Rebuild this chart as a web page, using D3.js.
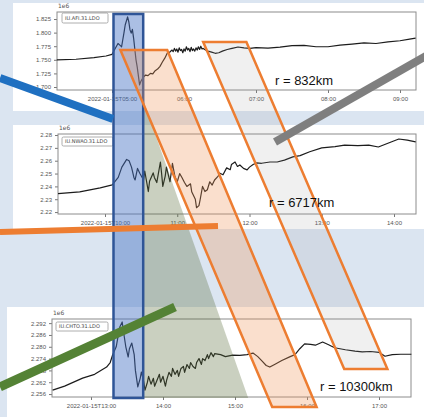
<!DOCTYPE html>
<html lang="en">
<head>
<meta charset="UTF-8">
<title>LDO pressure records</title>
<style>
  body { margin: 0; background: #dbe5f1; }
  svg { display: block; font-family: "DejaVu Sans", sans-serif; }
</style>
</head>
<body>
<script src="https://cdn.jsdelivr.net/npm/d3@7"></script>
<script>

// station names + distance labels
const stations = ["IU.AFI.31.LDO", "IU.NWAO.31.LDO", "IU.CHTO.31.LDO"];
const distances = ["r = 832km", "r = 6717km", "r = 10300km"];

// AFI (values in 1e6)
const afiTime = ["04:14","04:30","04:45","04:55","05:00","05:02","05:05","05:07","05:08","05:10","05:11","05:13","05:14","05:15","05:16","05:17","05:18","05:20","05:21","05:23","05:24","05:26","05:28","05:30","05:32","05:34","05:36","05:38","05:40","05:42","05:44","05:46","05:48","05:50",
  "05:51","05:52","05:53","05:54","05:55","05:56","05:57","05:58","05:59","06:00","06:01","06:02","06:03","06:04","06:05","06:06","06:07","06:08","06:09","06:10","06:11","06:12","06:13","06:14","06:15","06:16","06:18","06:20","06:23","06:26","06:29","06:32","06:36","06:40","06:45","06:50","06:55","07:00","07:10","07:20","07:30","07:40","07:50","08:00","08:10","08:20","08:30","08:40","08:50","09:00","09:08","09:13"];
const afiVal = [1.7500,1.7510,1.7540,1.7570,1.7600,1.7680,1.7800,1.7760,1.7740,1.8000,1.8140,1.8290,1.8200,1.8050,1.7990,1.8060,1.7900,1.7500,1.7370,1.7040,1.7100,1.7180,1.7220,1.7210,1.7250,1.7240,1.7300,1.7330,1.7380,1.7460,1.7530,1.7620,1.7640,1.7680,
  1.7650,1.7710,1.7660,1.7700,1.7640,1.7720,1.7670,1.7690,1.7630,1.7700,1.7660,1.7740,1.7680,1.7710,1.7650,1.7730,1.7670,1.7700,1.7660,1.7720,1.7680,1.7740,1.7690,1.7750,1.7700,1.7710,1.7680,1.7660,1.7640,1.7620,1.7630,1.7660,1.7690,1.7710,1.7735,1.7720,1.7710,1.7725,1.7715,1.7735,1.7760,1.7765,1.7740,1.7740,1.7770,1.7790,1.7810,1.7800,1.7830,1.7850,1.7880,1.7900];

// NWAO
const nwaoTime = ["09:21","09:39","09:56","10:06","10:11","10:14","10:18","10:20","10:22","10:24","10:25","10:27","10:29","10:32","10:33","10:36","10:37","10:40","10:41","10:43","10:46","10:47","10:48","10:50","10:51","10:54","10:56","10:58","11:00","11:02","11:04","11:06","11:08","11:11","11:12","11:15","11:16","11:18","11:19","11:21","11:23","11:25","11:27","11:29","11:31","11:34","11:35","11:38","11:41","11:44","11:45","11:48","11:50","11:52","11:55","11:58","12:00","12:03","12:06","12:10","12:17","12:23","12:29","12:36","12:42","12:50","13:00","13:11","13:19","13:30","13:39","13:47","13:56","14:04","14:11","14:18"];
const nwaoVal = [2.2343,2.2357,2.2389,2.2412,2.2470,2.2550,2.2610,2.2600,2.2550,2.2470,2.2450,2.2540,2.2500,2.2450,2.2520,2.2360,2.2440,2.2505,2.2470,2.2430,2.2590,2.2500,2.2400,2.2480,2.2550,2.2436,2.2580,2.2480,2.2436,2.2500,2.2467,2.2430,2.2400,2.2420,2.2358,2.2300,2.2234,2.2250,2.2296,2.2400,2.2360,2.2374,2.2436,2.2410,2.2450,2.2480,2.2505,2.2490,2.2544,2.2530,2.2570,2.2590,2.2555,2.2567,2.2540,2.2529,2.2550,2.2570,2.2583,2.2580,2.2590,2.2590,2.2605,2.2630,2.2640,2.2670,2.2700,2.2710,2.2722,2.2718,2.2722,2.2707,2.2740,2.2769,2.2760,2.2746];

// CHTO
const chtoTime = ["12:28","12:38","12:53","13:03","13:13","13:16","13:18","13:21","13:22","13:24","13:26","13:27","13:29","13:31","13:32","13:34","13:36","13:37","13:39","13:41","13:42","13:44","13:45","13:47","13:48","13:50","13:52","13:53","13:55","13:57","13:58","14:00","14:02","14:03","14:05","14:07","14:08","14:10","14:12","14:13","14:15","14:17","14:18","14:20","14:22","14:23","14:25","14:27","14:28","14:30","14:32","14:33","14:35","14:37","14:38","14:40","14:42","14:43","14:48","14:52","14:58","15:04","15:10","15:15","15:19","15:23","15:26","15:29","15:33","15:39","15:46","15:50","15:54","15:58","16:03","16:07","16:13","16:18","16:23","16:32","16:40","16:46","16:53","17:00","17:05","17:11","17:18","17:27"];
const chtoVal = [2.2580,2.2600,2.2641,2.2660,2.2697,2.2720,2.2758,2.2800,2.2834,2.2900,2.2926,2.2880,2.2800,2.2748,2.2790,2.2819,2.2760,2.2680,2.2596,2.2640,2.2672,2.2620,2.2580,2.2620,2.2650,2.2610,2.2640,2.2600,2.2630,2.2660,2.2620,2.2650,2.2600,2.2630,2.2670,2.2650,2.2690,2.2660,2.2680,2.2650,2.2690,2.2700,2.2670,2.2710,2.2690,2.2720,2.2700,2.2690,2.2720,2.2740,2.2710,2.2740,2.2730,2.2760,2.2740,2.2770,2.2750,2.2765,2.2760,2.2750,2.2758,2.2756,2.2760,2.2768,2.2750,2.2725,2.2705,2.2697,2.2710,2.2730,2.2750,2.2760,2.2790,2.2815,2.2812,2.2808,2.2824,2.2810,2.2795,2.2785,2.2778,2.2774,2.2776,2.2772,2.2752,2.2760,2.2762,2.2762];

// ticks
const afiYTicks = [1.700, 1.725, 1.750, 1.775, 1.800, 1.825];
const nwaoYTicks = [2.22, 2.23, 2.24, 2.25, 2.26, 2.27, 2.28];
const chtoYTicks = [2.256, 2.262, 2.268, 2.274, 2.280, 2.286, 2.292];
const afiXTicks = ["05:00", "06:00", "07:00", "08:00", "09:00"];
const nwaoXTicks = ["10:00", "11:00", "12:00", "13:00", "14:00"];
const chtoXTicks = ["13:00", "14:00", "15:00", "16:00", "17:00"];

const parseT = s => d3.utcParse("%Y-%m-%d %H:%M:%S")("2022-01-15 " + (s.length === 5 ? s + ":00" : s));
const hm = d3.utcFormat("%H:%M");

const W = 424, H = 417;

// panel layout (matplotlib boxes inside white slides)
const panels = [
  { name: stations[0], time: afiTime, val: afiVal, yTicks: afiYTicks, xTicks: afiXTicks, dec: 3,
    xDom: ["04:14:10", "09:13:20"], yDom: [1.6945, 1.8379],
    bg: [13, 3, 411, 108], box: [57, 12, 416, 90], leg: [62, 13, 46, 10] },
  { name: stations[1], time: nwaoTime, val: nwaoVal, yTicks: nwaoYTicks, xTicks: nwaoXTicks, dec: 2,
    xDom: ["09:20:58", "14:18:16"], yDom: [2.2185, 2.2808],
    bg: [13, 125, 411, 104], box: [58, 134, 416, 214], leg: [62, 137, 51, 9] },
  { name: stations[2], time: chtoTime, val: chtoVal, yTicks: chtoYTicks, xTicks: chtoXTicks, dec: 3,
    xDom: ["12:27:30", "17:26:40"], yDom: [2.2545, 2.2941],
    bg: [7, 307, 417, 110], box: [52, 319, 411, 397], leg: [56, 322, 52, 9] }
];

const svg = d3.select("body").append("svg")
  .attr("width", W)
  .attr("height", H);

svg.append("rect").attr("width", W).attr("height", H).attr("fill", "#dbe5f1");

panels.forEach(p => {
  const [x0, y0, x1, y1] = p.box;
  const g = svg.append("g");

  g.append("rect")
    .attr("x", p.bg[0]).attr("y", p.bg[1])
    .attr("width", p.bg[2]).attr("height", p.bg[3])
    .attr("fill", "#ffffff");

  const x = d3.scaleTime().domain(p.xDom.map(parseT)).range([x0, x1]);
  const y = d3.scaleLinear().domain(p.yDom).range([y1, y0]);
  p.x = x; p.y = y;

  const xAxis = g.append("g")
    .attr("transform", `translate(0,${y1})`)
    .call(d3.axisBottom(x)
      .tickValues(p.xTicks.map(parseT))
      .tickSize(3)
      .tickFormat((d, i) => i === 0 ? "2022-01-15T" + hm(d) : hm(d)));

  const yAxis = g.append("g")
    .attr("transform", `translate(${x0},0)`)
    .call(d3.axisLeft(y)
      .tickValues(p.yTicks)
      .tickSize(3)
      .tickFormat(d3.format("." + p.dec + "f")));

  [xAxis, yAxis].forEach(a => {
    a.select(".domain").remove();
    a.selectAll(".tick line").attr("stroke", "#777");
    a.selectAll(".tick text").attr("fill", "#555").attr("font-size", 6);
  });
  xAxis.selectAll(".tick text").attr("dy", "0.9em");

  // frame
  g.append("rect")
    .attr("x", x0).attr("y", y0)
    .attr("width", x1 - x0).attr("height", y1 - y0)
    .attr("fill", "none")
    .attr("stroke", "#8c8c8c")
    .attr("stroke-width", 1);

  g.append("text")
    .attr("x", x0 + 1).attr("y", y0 - 4)
    .attr("font-size", 6).attr("fill", "#555")
    .text("1e6");

  const pts = p.time.map((t, i) => [parseT(t), p.val[i]]);
  g.append("path")
    .datum(pts)
    .attr("fill", "none")
    .attr("stroke", "#1c1c1c")
    .attr("stroke-width", 1.2)
    .attr("stroke-linejoin", "round")
    .attr("d", d3.line().x(d => x(d[0])).y(d => y(d[1])));

  // legend box
  const [lx, ly, lw, lh] = p.leg;
  g.append("rect")
    .attr("x", lx).attr("y", ly).attr("width", lw).attr("height", lh)
    .attr("rx", 1.5)
    .attr("fill", "#fff").attr("stroke", "#999").attr("stroke-width", 0.8);
  g.append("text")
    .attr("x", lx + 3).attr("y", ly + lh / 2 + 1.8)
    .attr("font-size", 5).attr("fill", "#444")
    .text(p.name);
});

// ---- overlays: arrival windows drawn on top ----
const [pA, pB, pC] = panels;
const over = svg.append("g");

// P-wave window box, taken from AFI time axis
const boxL = pA.x(parseT("05:01:15")), boxR = pA.x(parseT("05:26"));
const boxTop = 14, boxBot = 398;

// green wedge under CHTO
over.append("path")
  .attr("d", d3.line()([[boxR, 100], [boxR, boxBot], [pC.x(parseT("15:11")), boxBot]]) + "Z")
  .attr("fill", "rgba(90,110,60,0.32)");

over.append("rect")
  .attr("x", boxL).attr("y", boxTop)
  .attr("width", boxR - boxL).attr("height", boxBot - boxTop)
  .attr("fill", "rgba(68,114,196,0.45)")
  .attr("stroke", "#2f5597")
  .attr("stroke-width", 2.5);

// parallelograms: top edge on AFI, bottom edge near CHTO
const bands = [
  { top: ["05:07", "05:46"], topY: pA.y(1.768), bot: ["15:31", "16:08"], botY: 407, fill: "rgba(240,150,90,0.3)" },
  { top: ["06:16", "06:52"], topY: pA.y(1.7827), bot: ["16:31", "17:07"], botY: 369, fill: "rgba(150,150,150,0.14)" }
];
bands.forEach(b => {
  const poly = [
    [pA.x(parseT(b.top[0])), b.topY],
    [pA.x(parseT(b.top[1])), b.topY],
    [pC.x(parseT(b.bot[1])), b.botY],
    [pC.x(parseT(b.bot[0])), b.botY]
  ];
  over.append("path")
    .attr("d", d3.line()(poly) + "Z")
    .attr("fill", b.fill)
    .attr("stroke", "#ed7d31")
    .attr("stroke-width", 2.5)
    .attr("stroke-linejoin", "miter");
});

// pointer bars
const pointers = [
  { a: [0, 78], b: [113, 119], c: "#1f70c1", w: 8 },
  { a: [426, 56], b: [275, 142], c: "#7f7f7f", w: 8 },
  { a: [0, 232], b: [218, 226], c: "#ed7d31", w: 6 },
  { a: [0, 387], b: [175, 307], c: "#548235", w: 9 }
];
pointers.forEach(p => {
  over.append("line")
    .attr("x1", p.a[0]).attr("y1", p.a[1])
    .attr("x2", p.b[0]).attr("y2", p.b[1])
    .attr("stroke", p.c)
    .attr("stroke-width", p.w);
});

// distance labels
const labelPos = [[275, 85], [269, 207], [320, 391]];
distances.forEach((t, i) => {
  over.append("text")
    .attr("x", labelPos[i][0]).attr("y", labelPos[i][1])
    .attr("font-family", "Liberation Sans, Arial, sans-serif")
    .attr("font-size", 13)
    .attr("fill", "#111")
    .text(t);
});

</script>
</body>
</html>
